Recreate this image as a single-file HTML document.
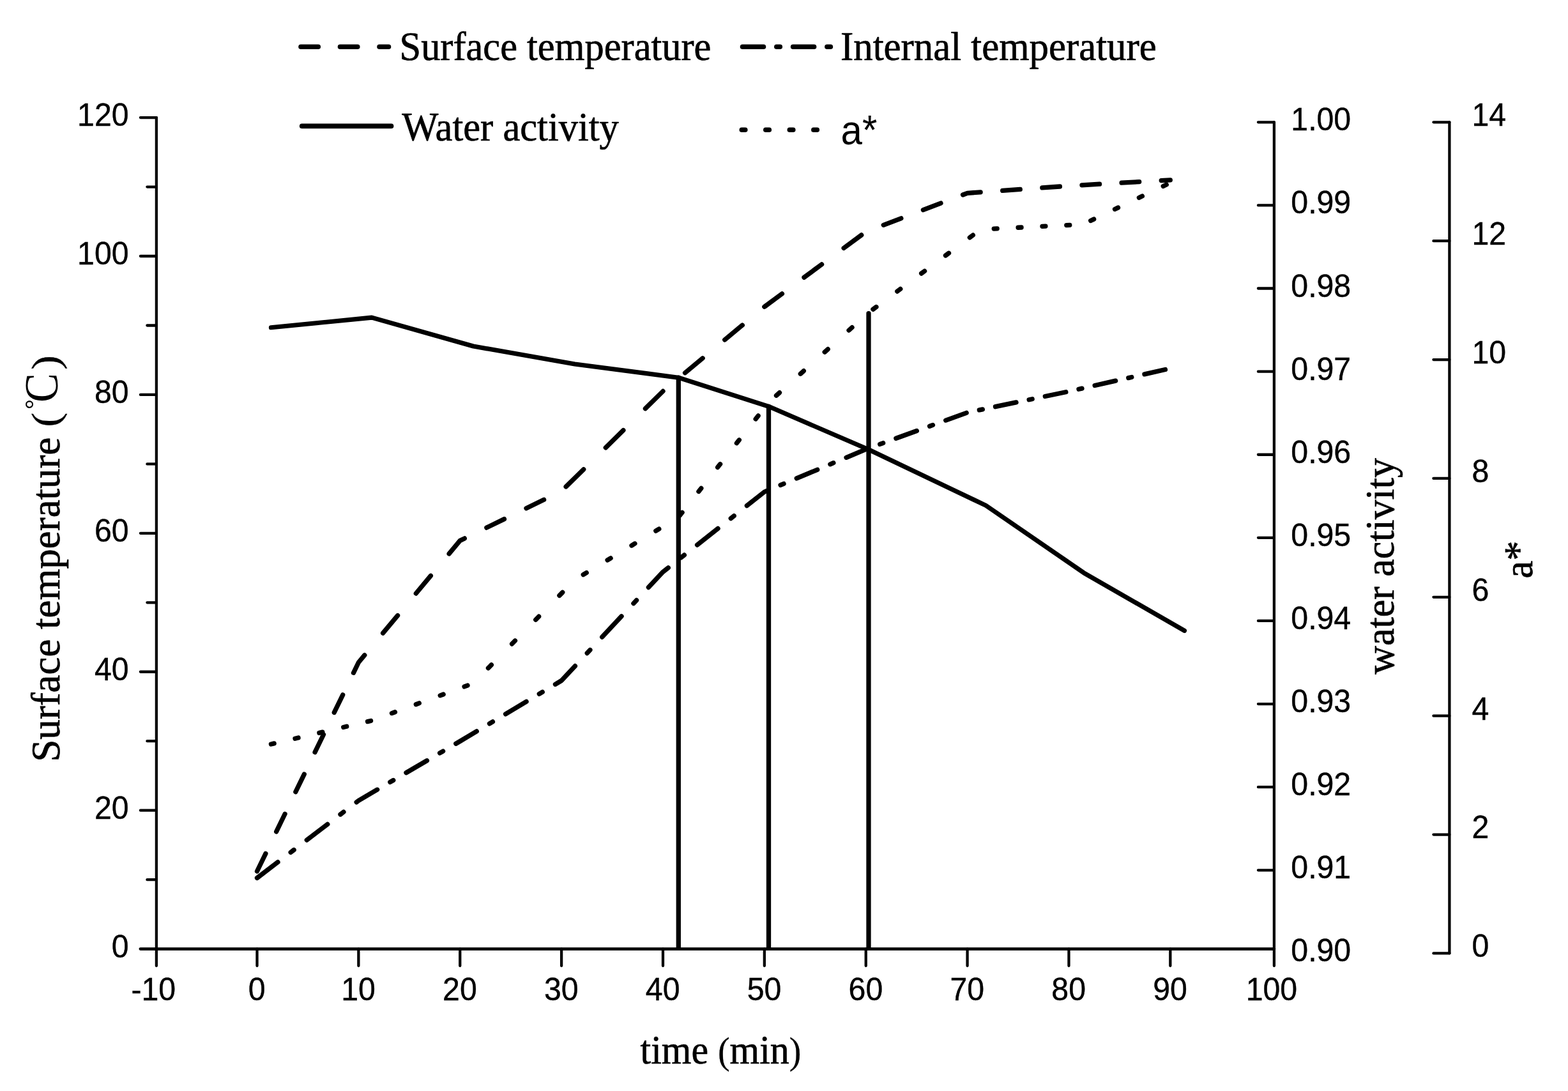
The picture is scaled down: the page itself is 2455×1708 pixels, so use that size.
<!DOCTYPE html>
<html lang="en">
<head>
<meta charset="utf-8">
<title>Surface temperature, internal temperature, water activity and a* versus time</title>
<style>
html,body{margin:0;padding:0;background:#fff}
body{width:2455px;height:1708px;overflow:hidden}
svg{display:block}
.ax{fill:none;stroke:#000;stroke-linecap:round;stroke-linejoin:round}
.s{fill:none;stroke:#000;stroke-width:7.3;stroke-linecap:round;stroke-linejoin:round}
.v{fill:none;stroke:#000;stroke-width:7.3;stroke-linecap:round}
.lg{fill:none;stroke:#000;stroke-width:7.6;stroke-linecap:round}
text{fill:#000}
.t{font-family:"Liberation Sans",sans-serif;font-size:50.0px;stroke:#000;stroke-width:0.4}
.a{font-family:"Liberation Sans",sans-serif;font-size:65px}
.r{font-family:"Liberation Serif",serif;font-size:63.0px;stroke:#000;stroke-width:0.7;stroke-linejoin:round}
</style>
</head>
<body>
<svg width="2455" height="1708" viewBox="0 0 2455 1708">
<rect width="2455" height="1708" fill="#fff"/>
<path class="ax" stroke-width="4.3" d="M244.9,184.1V1512.1M1994.9,191.3V1512.1M2269.4,191.3V1492.4M402.5,1485.6V1512.1M561.37,1485.6V1512.1M720.24,1485.6V1512.1M879.11,1485.6V1512.1M1037.98,1485.6V1512.1M1196.85,1485.6V1512.1M1355.72,1485.6V1512.1M1514.59,1485.6V1512.1M1673.46,1485.6V1512.1M1832.33,1485.6V1512.1"/>
<path class="ax" stroke-width="4.3" d="M219.9,184.1H244.9M219.9,401.02H244.9M219.9,617.93H244.9M219.9,834.85H244.9M219.9,1051.77H244.9M219.9,1268.68H244.9M230.4,292.56H244.9M230.4,509.48H244.9M230.4,726.39H244.9M230.4,943.31H244.9M230.4,1160.22H244.9M230.4,1377.14H244.9M1969.9,191.3H1994.9M1969.9,321.41H1994.9M1969.9,451.52H1994.9M1969.9,581.63H1994.9M1969.9,711.74H1994.9M1969.9,841.85H1994.9M1969.9,971.96H1994.9M1969.9,1102.07H1994.9M1969.9,1232.18H1994.9M1969.9,1362.29H1994.9M2244.4,191.3H2269.4M2244.4,377.17H2269.4M2244.4,563.04H2269.4M2244.4,748.91H2269.4M2244.4,934.79H2269.4M2244.4,1120.66H2269.4M2244.4,1306.53H2269.4M2244.4,1492.4H2269.4"/>
<path class="ax" stroke-width="4.8" d="M219.9,1485.6H1994.9"/>
<text class="t" transform="translate(201.6,197.1) scale(0.965,1)" text-anchor="end">120</text>
<text class="t" transform="translate(201.6,414.02) scale(0.965,1)" text-anchor="end">100</text>
<text class="t" transform="translate(201.6,630.93) scale(0.965,1)" text-anchor="end">80</text>
<text class="t" transform="translate(201.6,847.85) scale(0.965,1)" text-anchor="end">60</text>
<text class="t" transform="translate(201.6,1064.77) scale(0.965,1)" text-anchor="end">40</text>
<text class="t" transform="translate(201.6,1281.68) scale(0.965,1)" text-anchor="end">20</text>
<text class="t" transform="translate(201.6,1498.6) scale(0.965,1)" text-anchor="end">0</text>
<text class="t" transform="translate(240.33,1565.8) scale(0.965,1)" text-anchor="middle">-10</text>
<text class="t" transform="translate(402.2,1565.8) scale(0.965,1)" text-anchor="middle">0</text>
<text class="t" transform="translate(561.07,1565.8) scale(0.965,1)" text-anchor="middle">10</text>
<text class="t" transform="translate(719.94,1565.8) scale(0.965,1)" text-anchor="middle">20</text>
<text class="t" transform="translate(878.81,1565.8) scale(0.965,1)" text-anchor="middle">30</text>
<text class="t" transform="translate(1037.68,1565.8) scale(0.965,1)" text-anchor="middle">40</text>
<text class="t" transform="translate(1196.55,1565.8) scale(0.965,1)" text-anchor="middle">50</text>
<text class="t" transform="translate(1355.42,1565.8) scale(0.965,1)" text-anchor="middle">60</text>
<text class="t" transform="translate(1514.29,1565.8) scale(0.965,1)" text-anchor="middle">70</text>
<text class="t" transform="translate(1673.16,1565.8) scale(0.965,1)" text-anchor="middle">80</text>
<text class="t" transform="translate(1832.03,1565.8) scale(0.965,1)" text-anchor="middle">90</text>
<text class="t" transform="translate(1990.9,1565.8) scale(0.965,1)" text-anchor="middle">100</text>
<text class="t" transform="translate(2021.3,204.3) scale(0.965,1)">1.00</text>
<text class="t" transform="translate(2021.3,334.41) scale(0.965,1)">0.99</text>
<text class="t" transform="translate(2021.3,464.52) scale(0.965,1)">0.98</text>
<text class="t" transform="translate(2021.3,594.63) scale(0.965,1)">0.97</text>
<text class="t" transform="translate(2021.3,724.74) scale(0.965,1)">0.96</text>
<text class="t" transform="translate(2021.3,854.85) scale(0.965,1)">0.95</text>
<text class="t" transform="translate(2021.3,984.96) scale(0.965,1)">0.94</text>
<text class="t" transform="translate(2021.3,1115.07) scale(0.965,1)">0.93</text>
<text class="t" transform="translate(2021.3,1245.18) scale(0.965,1)">0.92</text>
<text class="t" transform="translate(2021.3,1375.29) scale(0.965,1)">0.91</text>
<text class="t" transform="translate(2021.3,1505.4) scale(0.965,1)">0.90</text>
<text class="t" transform="translate(2304.5,197.2) scale(0.965,1)">14</text>
<text class="t" transform="translate(2304.5,383.07) scale(0.965,1)">12</text>
<text class="t" transform="translate(2304.5,568.94) scale(0.965,1)">10</text>
<text class="t" transform="translate(2304.5,754.81) scale(0.965,1)">8</text>
<text class="t" transform="translate(2304.5,940.69) scale(0.965,1)">6</text>
<text class="t" transform="translate(2304.5,1126.56) scale(0.965,1)">4</text>
<text class="t" transform="translate(2304.5,1312.43) scale(0.965,1)">2</text>
<text class="t" transform="translate(2304.5,1498.3) scale(0.965,1)">0</text>
<path class="s" style="stroke-width:7.1" d="M424.4,512.8L582.1,497.1L741,542L900,570L1062.2,591.2L1203.5,636.3L1359.9,703.8L1543.6,791.4L1696.9,896.8L1854.5,987.4"/>
<path class="s" d="M402.5,1364L415.91,1336.4M432.7,1301.86L446.11,1274.26M462.89,1239.72L476.3,1212.12M493.09,1177.58L506.5,1149.98M523.28,1115.44L536.7,1087.84M553.48,1053.3L561.4,1037L570.81,1025.7M599.59,991.16L622.59,963.56M651.36,929.02L674.36,901.42M703.14,866.88L720.2,846.4L727.32,842.93M761.86,826.08L789.46,812.62M824,795.77L851.6,782.31M886.14,761.97L913.74,734.8M948.28,700.81L975.88,673.64M1010.42,639.65L1038,612.5L1038.02,612.48M1072.56,583.73L1100.16,560.75M1134.7,531.99L1162.3,509.01M1196.84,480.25L1196.9,480.2L1224.44,459.84M1258.98,434.3L1286.58,413.9M1321.12,388.36L1348.72,367.96M1383.26,352.31L1410.86,341.8M1445.4,328.65L1473,318.14M1507.54,304.99L1514.6,302.3L1535.14,300.84M1569.68,298.38L1597.28,296.42M1631.82,293.96L1659.42,292M1693.96,289.81L1721.56,288.22M1756.1,286.21L1783.7,284.62M1818.24,282.61L1832.3,281.8"/>
<path class="s" d="M402.5,1374.5L435,1349.71M455.16,1334.33L460.16,1330.52M480.32,1315.14L512.82,1290.35M532.98,1274.98L537.98,1271.16M558.14,1255.79L561.4,1253.3L590.64,1236.21M610.8,1224.43L615.8,1221.51M635.96,1209.73L668.46,1190.74M688.62,1178.95L693.62,1176.03M713.78,1164.25L720.2,1160.5L746.28,1144.91M766.44,1132.85L771.44,1129.87M791.6,1117.81L824.1,1098.38M844.26,1086.33L849.26,1083.34M869.42,1071.29L879.1,1065.5L900.4,1042.68M919.23,1022.52L923.89,1017.52M942.72,997.36L973.06,964.86M991.88,944.7L996.55,939.7M1015.37,919.54L1038,895.3L1046.26,888.79M1066.42,872.89L1071.42,868.95M1091.58,853.05L1124.08,827.42M1144.24,811.52L1149.24,807.58M1169.4,791.69L1196.9,770L1201.9,767.9M1222.06,759.45L1227.06,757.35M1247.22,748.9L1279.72,735.27M1299.88,726.81L1304.88,724.71M1325.04,716.26L1355.7,703.4L1357.54,702.73M1377.7,695.43L1382.7,693.61M1402.86,686.3L1435.36,674.52M1455.52,667.22L1460.52,665.4M1480.68,658.1L1513.18,646.31M1533.34,641.91L1538.34,640.87M1558.5,636.68L1591,629.93M1611.16,625.75L1616.16,624.71M1636.32,620.52L1668.82,613.77M1688.98,609.28L1693.98,608.14M1714.14,603.56L1746.64,596.17M1766.8,591.59L1771.8,590.45M1791.96,585.87L1824.46,578.48"/>
<path class="s" d="M424.4,1165L429.15,1163.89M462.01,1156.2L467.01,1155.03M499.87,1147.34L504.87,1146.17M537.73,1138.48L542.73,1137.31M575.59,1129.62L580.59,1128.45M613.45,1116.6L618.45,1114.76M651.31,1102.71L656.31,1100.87M689.17,1088.82L694.17,1086.98M727.03,1074.93L732.03,1073.09M764.43,1045.91L769.34,1040.91M801.57,1008.05L806.47,1003.05M838.71,970.19L843.61,965.19M875.84,932.33L880.75,927.33M913.23,899.71L918.23,896.7M951.09,876.86L956.09,873.85M988.95,854.01L993.95,850.99M1026.81,831.16L1031.81,828.14M1064.14,807.33L1068.07,802.33M1093.89,769.47L1097.82,764.47M1123.65,731.61L1127.58,726.61M1153.4,693.75L1157.33,688.75M1183.15,655.89L1187.08,650.89M1215.47,619.24L1220.47,614.74M1253.33,585.2L1258.33,580.71M1291.19,551.17L1296.19,546.67M1329.05,517.13L1334.05,512.64M1366.91,484.2L1371.91,480.49M1404.77,456.12L1409.77,452.42M1442.63,428.05L1447.63,424.34M1480.49,399.97L1485.49,396.26M1518.35,371.89L1523.35,368.18M1556.21,358.09L1561.21,357.85M1594.07,356.25L1599.07,356M1631.93,354.4L1636.93,354.15M1669.79,352.55L1674.79,352.31M1707.65,345.47L1712.65,343.09M1745.51,327.46L1750.51,325.08M1783.37,309.44L1788.37,307.06M1821.23,291.43L1826.23,289.05"/>
<path class="v" d="M1062.3,591.2V1484M1203.5,636.3V1484M1360,490.6V1484"/>
<path class="lg" d="M471,73.3L498.3,73.3M532.5,73.3L559.8,73.3M594,73.3L608.5,73.3"/>
<path class="lg" d="M1162.5,73.3L1195.5,73.3M1215.8,73.3L1221.3,73.3M1241.6,73.3L1274.6,73.3M1294.9,73.3L1300.4,73.3"/>
<path class="lg" d="M472.7,197.4H612.6"/>
<path class="lg" d="M1161.3,203.2L1166.8,203.2M1198.8,203.2L1204.3,203.2M1236.3,203.2L1241.8,203.2M1273.8,203.2L1279.3,203.2"/>
<text class="r" transform="translate(625.6,93.8) scale(0.9585,1)">Surface temperature</text>
<text class="r" transform="translate(1316,93.8) scale(0.9657,1)">Internal temperature</text>
<text class="r" transform="translate(629.3,219.5) scale(0.9606,1)">Water activity</text>
<text class="a" transform="translate(1316.5,226) scale(0.925,1)">a*</text>
<text class="r" transform="translate(1002.6,1665.1) scale(0.9502,1)">time <tspan style="font-size:59px;stroke-width:0.3" dy="-0.6">(</tspan><tspan dy="0.6">min</tspan><tspan style="font-size:59px;stroke-width:0.3" dy="-0.6">)</tspan></text>
<text class="r" transform="translate(92.8,1192.7) rotate(-90) scale(0.9983,1)">Surface temperature</text>
<text class="r" transform="translate(91.7,668.5) rotate(-90) scale(1.1,1)" style="font-size:62px;stroke-width:0.3">(</text>
<text class="r" transform="translate(65.9,640.7) rotate(-90)" style="font-size:38.6px;stroke-width:0.2">°</text>
<text class="r" transform="translate(89.5,630) rotate(-90) scale(0.925,1)" style="font-size:74.4px;stroke-width:0">C</text>
<text class="r" transform="translate(91.7,579.1) rotate(-90) scale(1.1,1)" style="font-size:62px;stroke-width:0.3">)</text>
<text class="r" transform="translate(2182.1,1055.8) rotate(-90) scale(0.9833,1)">water activity</text>
<text class="r" transform="translate(2399.1,905.5) rotate(-90) scale(0.9905,1)">a*</text>
</svg>
</body>
</html>
